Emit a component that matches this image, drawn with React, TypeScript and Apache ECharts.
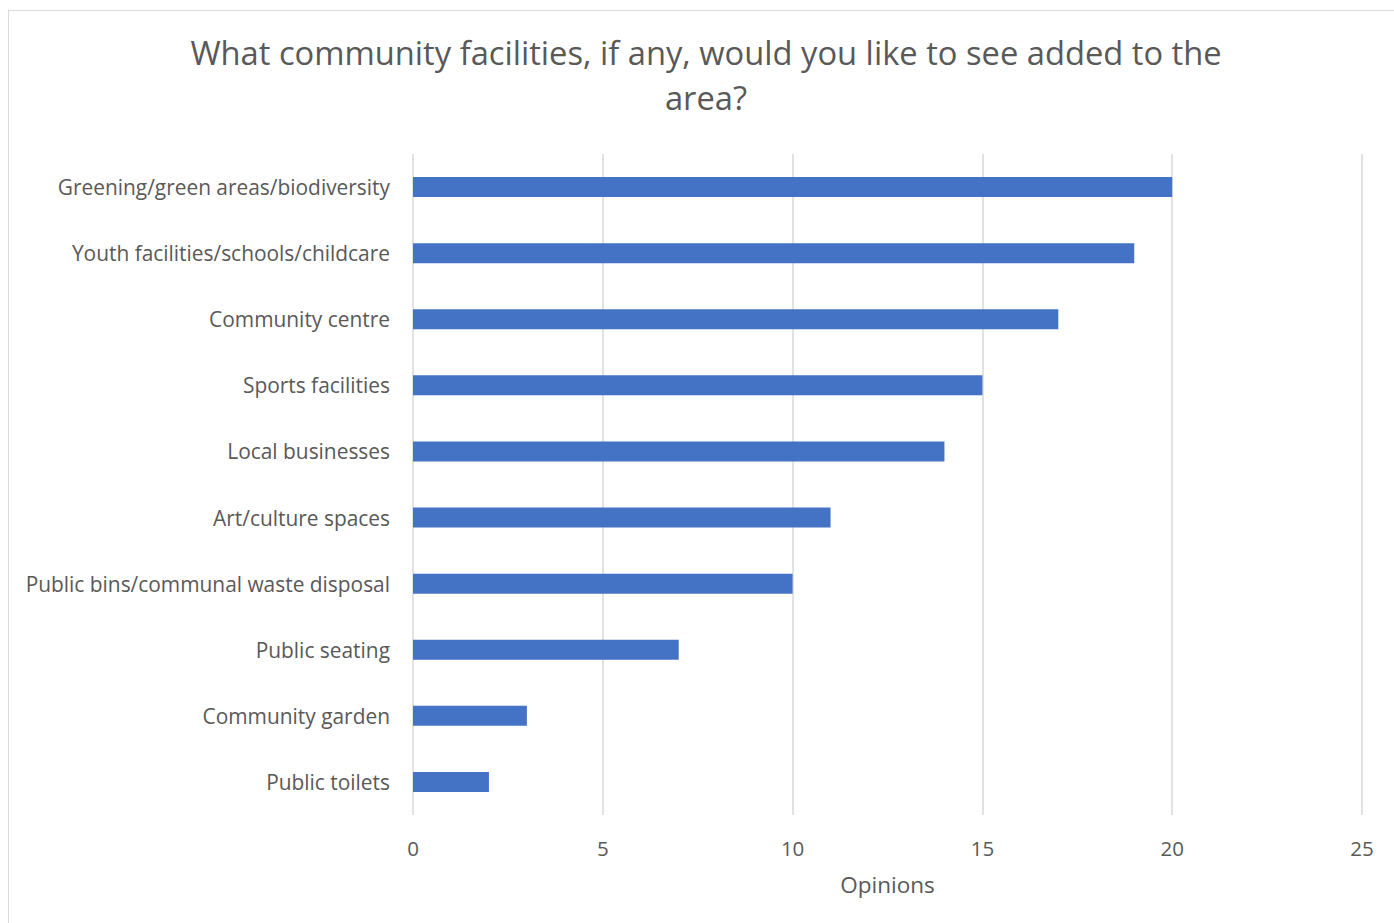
import React, { useEffect, useRef } from "react";
import * as echarts from "echarts";

const categories = [
  "Greening/green areas/biodiversity",
  "Youth facilities/schools/childcare",
  "Community centre",
  "Sports facilities",
  "Local businesses",
  "Art/culture spaces",
  "Public bins/communal waste disposal",
  "Public seating",
  "Community garden",
  "Public toilets",
];
const values = [20, 19, 17, 15, 14, 11, 10, 7, 3, 2];
const titleText = "What community facilities, if any, would you like to see added to the\narea?";
const axisName = "Opinions";

const FONT = "'Open Sans', sans-serif";

export default function App() {
  const ref = useRef<HTMLDivElement>(null);
  useEffect(() => {
    document.body.style.overflow = "hidden";
    const chart = echarts.init(ref.current!, null, { renderer: "svg" });
    chart.setOption({
      animation: false,
      backgroundColor: "transparent",
      title: {
        text: titleText,
        left: 701,
        top: 25,
        textAlign: "center",
        textStyle: {
          fontFamily: FONT,
          fontSize: 32.7,
          fontWeight: "normal",
          color: "#595959",
          lineHeight: 45,
        },
      },
      grid: { left: 413, right: 32, top: 154, bottom: 108, containLabel: false },
      xAxis: {
        type: "value",
        min: 0,
        max: 25,
        interval: 5,
        name: axisName,
        nameLocation: "middle",
        nameGap: 58,
        nameTextStyle: { fontFamily: FONT, fontSize: 22.5, color: "#595959" },
        axisLine: { show: false },
        axisTick: { show: false },
        axisLabel: { fontFamily: FONT, fontSize: 20.5, color: "#595959", margin: 22 },
        splitLine: { show: true, lineStyle: { color: "#d9d9d9", width: 1.5 } },
      },
      yAxis: {
        type: "category",
        data: categories,
        inverse: true,
        axisLine: { show: false },
        axisTick: { show: false },
        axisLabel: { fontFamily: FONT, fontSize: 20.9, color: "#595959", margin: 23 },
        splitLine: { show: false },
      },
      series: [
        {
          type: "bar",
          data: values,
          barWidth: 20,
          itemStyle: { color: "#4472C4" },
        },
      ],
    });
    return () => chart.dispose();
  }, []);
  return (
    <>
      <div
        style={{
          position: "fixed",
          left: 8,
          top: 10,
          width: 1500,
          height: 1000,
          borderLeft: "1.5px solid #d9d9d9",
          borderTop: "1.5px solid #d9d9d9",
          background: "#fff",
        }}
      />
      <div
        ref={ref}
        style={{ position: "fixed", left: 0, top: 0, width: 1394, height: 923 }}
      />
    </>
  );
}
